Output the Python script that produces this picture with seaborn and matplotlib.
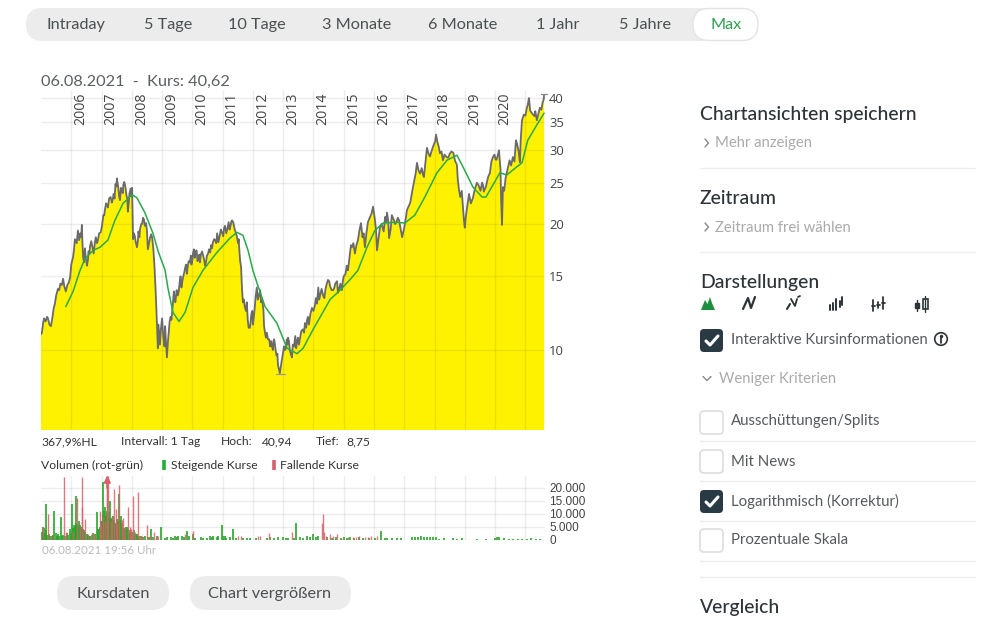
import matplotlib
matplotlib.use("Agg")
import matplotlib.pyplot as plt
from matplotlib.patches import FancyBboxPatch, Circle
import pandas as pd
import seaborn as sns

sns.set_style("white")
plt.rcParams["font.family"] = ["Lato", "DejaVu Sans"]

# ===== DATEN =====
kurs_jahr = [
    2005.00, 2005.03, 2005.07, 2005.10, 2005.15, 2005.20, 2005.23, 2005.28, 2005.33, 2005.38, 2005.42, 2005.46,
    2005.50, 2005.56, 2005.60, 2005.64, 2005.69, 2005.73, 2005.77, 2005.82, 2005.87, 2005.92, 2005.96, 2006.00,
    2006.06, 2006.12, 2006.18, 2006.22, 2006.30, 2006.35, 2006.39, 2006.45, 2006.52, 2006.57, 2006.62, 2006.70,
    2006.78, 2006.85, 2006.92, 2007.01, 2007.06, 2007.11, 2007.18, 2007.25, 2007.34, 2007.40, 2007.46, 2007.51,
    2007.55, 2007.61, 2007.67, 2007.72, 2007.77, 2007.82, 2007.87, 2007.92, 2008.01, 2008.03, 2008.04, 2008.10,
    2008.17, 2008.22, 2008.27, 2008.37, 2008.43, 2008.50, 2008.53, 2008.60, 2008.67, 2008.71, 2008.73, 2008.75,
    2008.78, 2008.80, 2008.83, 2008.86, 2008.90, 2008.93, 2009.00, 2009.05, 2009.10, 2009.13, 2009.16, 2009.22,
    2009.28, 2009.33, 2009.39, 2009.44, 2009.52, 2009.58, 2009.64, 2009.70, 2009.76, 2009.82, 2009.88, 2009.92,
    2009.97, 2010.02, 2010.08, 2010.14, 2010.20, 2010.25, 2010.32, 2010.42, 2010.48, 2010.55, 2010.62, 2010.68,
    2010.75, 2010.82, 2010.90, 2010.98, 2011.05, 2011.12, 2011.20, 2011.26, 2011.31, 2011.38, 2011.44, 2011.51,
    2011.56, 2011.61, 2011.64, 2011.70, 2011.77, 2011.83, 2011.90, 2011.95, 2012.00, 2012.06, 2012.13, 2012.20,
    2012.30, 2012.35, 2012.40, 2012.50, 2012.57, 2012.63, 2012.68, 2012.73, 2012.78, 2012.83, 2012.89, 2012.95,
    2013.06, 2013.12, 2013.16, 2013.22, 2013.29, 2013.36, 2013.46, 2013.52, 2013.56, 2013.65, 2013.79, 2013.85,
    2013.95, 2014.05, 2014.12, 2014.16, 2014.22, 2014.32, 2014.40, 2014.48, 2014.55, 2014.65, 2014.72, 2014.85,
    2014.94, 2015.00, 2015.14, 2015.27, 2015.37, 2015.47, 2015.57, 2015.70, 2015.80, 2015.97, 2016.10, 2016.20,
    2016.32, 2016.43, 2016.50, 2016.59, 2016.70, 2016.79, 2016.93, 2017.09, 2017.26, 2017.34, 2017.42, 2017.52,
    2017.65, 2017.75, 2017.91, 2018.05, 2018.18, 2018.28, 2018.40, 2018.51, 2018.62, 2018.74, 2018.81, 2018.94,
    2019.00, 2019.10, 2019.27, 2019.40, 2019.57, 2019.63, 2019.77, 2019.93, 2020.05, 2020.13, 2020.23, 2020.26,
    2020.43, 2020.59, 2020.69, 2020.82, 2020.89, 2021.05, 2021.12, 2021.22, 2021.38, 2021.48, 2021.62,
]
kurs_wert = [
    10.9, 11.0, 11.6, 11.9, 11.7, 12.0, 11.9, 11.5, 11.4, 12.0, 12.6, 12.9,
    13.5, 14.0, 13.9, 14.4, 14.3, 14.8, 14.2, 13.8, 14.3, 14.5, 14.9, 16.0,
    16.7, 18.4, 18.0, 19.3, 19.0, 19.9, 16.7, 17.5, 15.9, 17.2, 17.7, 17.6,
    18.1, 18.0, 19.0, 19.7, 21.0, 21.6, 22.2, 23.0, 22.5, 23.6, 24.9, 25.7,
    24.6, 22.8, 24.2, 24.8, 24.9, 23.5, 21.4, 23.6, 24.4, 20.0, 18.4, 18.7,
    17.6, 19.2, 19.4, 20.7, 19.8, 19.3, 17.4, 18.5, 18.6, 17.5, 16.6, 15.8,
    14.2, 13.2, 11.6, 10.1, 11.0, 10.3, 11.9, 10.6, 11.4, 10.4, 9.6, 11.0,
    12.0, 12.3, 13.8, 13.0, 13.5, 14.5, 14.1, 15.0, 15.7, 15.2, 16.3, 16.2,
    16.0, 17.0, 16.6, 17.3, 16.5, 16.2, 17.2, 15.9, 16.8, 17.4, 17.8, 18.1,
    18.3, 19.0, 18.7, 19.1, 19.6, 19.0, 20.2, 19.8, 20.4, 19.7, 19.0, 18.0,
    17.0, 15.8, 14.0, 13.2, 12.4, 11.8, 11.3, 12.2, 11.5, 12.6, 14.1, 13.5,
    13.2, 12.4, 11.0, 10.6, 10.2, 10.2, 10.5, 10.3, 9.7, 9.2, 8.8, 9.4,
    10.0, 10.6, 10.7, 10.0, 9.6, 10.2, 10.5, 10.3, 10.7, 11.2, 11.8, 11.5,
    12.6, 12.8, 12.9, 14.1, 13.5, 13.5, 14.0, 14.7, 14.2, 13.9, 14.4, 14.0,
    13.9, 15.0, 15.5, 17.6, 17.0, 18.3, 20.1, 17.6, 20.2, 22.0, 17.3, 19.7,
    19.2, 21.3, 18.5, 21.0, 20.0, 20.7, 18.6, 21.6, 23.9, 25.6, 28.0, 26.4,
    25.9, 30.4, 30.0, 32.7, 29.5, 28.4, 28.9, 29.5, 29.6, 27.7, 24.1, 22.0,
    19.6, 22.5, 23.1, 25.1, 25.1, 23.9, 25.9, 28.9, 28.5, 30.0, 19.9, 24.5,
    27.4, 28.9, 31.7, 28.1, 35.4, 37.9, 40.0, 36.8, 35.4, 37.9, 40.6,
]

# Zwischenwerte der Kurslinie (Zacken)
zacken_jahr = [
    2006.09, 2006.26, 2006.33, 2006.37, 2006.42, 2006.48, 2006.55, 2006.60, 2006.66, 2006.74,
    2006.81, 2006.88, 2006.97, 2007.04, 2007.09, 2007.15, 2007.21, 2007.30, 2007.37, 2007.43,
    2007.49, 2007.53, 2007.58, 2007.64, 2007.70, 2007.75, 2007.80, 2007.85, 2007.90, 2007.96,
    2007.99, 2008.07, 2008.13, 2008.20, 2008.25, 2008.31, 2008.34, 2008.40, 2008.47, 2008.57,
    2008.64, 2008.69, 2008.85, 2008.88, 2008.96, 2009.03, 2009.08, 2009.19, 2009.25, 2009.31,
    2009.36, 2009.41, 2009.48, 2009.55, 2009.61, 2009.67, 2009.73, 2009.79, 2009.85, 2009.95,
    2010.00, 2010.05, 2010.11, 2010.17, 2010.23, 2010.28, 2010.36, 2010.39, 2010.45, 2010.52,
    2010.59, 2010.65, 2010.72, 2010.79, 2010.86, 2010.94, 2011.02, 2011.08, 2011.16, 2011.23,
    2011.29, 2011.35, 2011.41, 2011.47, 2011.53, 2011.58, 2011.67, 2011.73, 2011.80, 2011.86,
    2011.92, 2011.98, 2012.03, 2012.09, 2012.16, 2012.24, 2012.27, 2012.33, 2012.37, 2012.43,
    2012.46, 2012.54, 2012.60, 2012.66, 2012.70, 2012.75, 2012.81, 2012.86, 2012.92, 2013.00,
    2013.03, 2013.09, 2013.14, 2013.19, 2013.25, 2013.32, 2013.40, 2013.43, 2013.49, 2013.60,
    2013.69, 2013.72, 2013.76, 2013.82, 2013.90, 2014.00, 2014.08, 2014.19, 2014.27, 2014.36,
    2014.44, 2014.52, 2014.60, 2014.69, 2014.78, 2014.81, 2014.89, 2014.97, 2015.06, 2015.10,
    2015.20, 2015.24, 2015.32, 2015.42, 2015.52, 2015.62, 2015.66, 2015.75, 2015.85, 2015.92,
    2016.03, 2016.07, 2016.15, 2016.25, 2016.37, 2016.40, 2016.47, 2016.55, 2016.64, 2016.74,
    2016.83, 2016.88, 2017.00, 2017.04, 2017.14, 2017.20, 2017.30, 2017.38, 2017.47, 2017.58,
    2017.62, 2017.70, 2017.80, 2017.85, 2017.98, 2018.02, 2018.10, 2018.14, 2018.23, 2018.33,
    2018.45, 2018.56, 2018.68, 2018.77, 2018.85, 2018.90, 2018.97, 2019.04, 2019.14, 2019.20,
    2019.33, 2019.45, 2019.52, 2019.60, 2019.70, 2019.83, 2019.88, 2019.98, 2020.02, 2020.09,
    2020.18, 2020.20, 2020.30, 2020.35, 2020.48, 2020.53, 2020.64, 2020.73, 2020.78, 2020.85,
    2020.95, 2021.00, 2021.08, 2021.16, 2021.30, 2021.33, 2021.43, 2021.53, 2021.57, 2021.60,
]
zacken_wert = [
    17.4, 18.3, 18.6, 18.0, 16.2, 16.6, 16.4, 17.0, 18.2, 17.0,
    18.6, 18.3, 19.1, 20.5, 21.0, 22.4, 21.9, 23.2, 22.9, 23.0,
    24.6, 25.0, 23.3, 24.4, 23.7, 25.2, 24.2, 23.0, 22.5, 24.3,
    23.4, 19.0, 18.1, 18.2, 18.6, 20.0, 20.0, 20.5, 20.1, 18.0,
    18.9, 18.0, 10.8, 11.5, 11.2, 11.0, 10.2, 10.4, 11.7, 11.8,
    13.0, 13.2, 13.9, 13.8, 15.0, 14.6, 15.3, 16.0, 15.9, 16.8,
    16.4, 17.4, 17.2, 16.3, 16.9, 16.9, 16.8, 16.4, 16.2, 17.0,
    17.1, 17.5, 18.4, 18.0, 18.1, 19.4, 18.7, 19.8, 19.5, 19.4,
    20.3, 20.2, 19.3, 18.7, 18.4, 16.3, 13.0, 12.7, 13.0, 11.3,
    11.6, 12.4, 12.0, 13.4, 13.2, 13.9, 13.0, 12.8, 11.4, 10.7,
    11.0, 10.6, 10.5, 10.0, 10.6, 10.0, 9.8, 9.0, 9.1, 9.9,
    10.2, 10.1, 10.3, 10.5, 9.8, 10.3, 10.8, 10.1, 10.7, 11.1,
    11.0, 11.6, 11.3, 12.0, 12.2, 12.4, 13.3, 13.2, 14.0, 13.3,
    14.4, 14.6, 13.9, 14.1, 14.6, 13.7, 14.4, 14.6, 15.2, 15.9,
    16.8, 17.8, 18.0, 17.8, 19.3, 18.6, 19.0, 19.0, 20.6, 21.2,
    20.5, 19.3, 18.5, 20.0, 20.8, 20.2, 20.4, 19.4, 20.6, 20.2,
    20.4, 19.5, 19.6, 20.4, 22.0, 22.5, 24.7, 26.5, 26.9, 27.2,
    26.2, 28.0, 29.5, 29.0, 31.0, 31.5, 31.3, 30.6, 29.8, 29.3,
    28.8, 29.8, 28.3, 25.5, 23.2, 24.0, 20.5, 21.0, 23.6, 22.4,
    24.2, 24.8, 24.0, 24.8, 24.6, 26.5, 28.2, 29.3, 28.5, 29.2,
    27.0, 23.0, 24.0, 25.8, 28.4, 27.6, 28.2, 31.0, 29.8, 32.0,
    36.5, 36.3, 38.5, 37.3, 36.2, 37.2, 36.6, 37.5, 39.0, 39.5,
]

gd_jahr = [
    2005.82, 2006.06, 2006.29, 2006.45, 2006.72, 2006.95, 2007.21, 2007.44, 2007.71, 2008.01, 2008.17, 2008.43,
    2008.70, 2008.86, 2009.10, 2009.19, 2009.36, 2009.56, 2009.76, 2010.02, 2010.35, 2010.81, 2011.24, 2011.47,
    2011.67, 2011.84, 2012.00, 2012.13, 2012.40, 2012.79, 2013.13, 2013.46, 2013.66, 2013.99, 2014.31, 2014.55,
    2014.88, 2015.20, 2015.47, 2015.77, 2016.03, 2016.30, 2016.76, 2017.02, 2017.35, 2017.68, 2018.08, 2018.41,
    2018.74, 2018.94, 2019.27, 2019.57, 2019.70, 2019.93, 2020.16, 2020.39, 2020.72, 2020.89, 2021.08, 2021.38,
    2021.62,
]
gd_wert = [
    12.7, 13.8, 15.5, 16.5, 17.3, 17.6, 18.3, 20.4, 22.4, 23.5, 23.1, 21.3,
    19.0, 17.3, 15.5, 14.1, 12.3, 11.7, 12.3, 14.1, 15.5, 17.1, 18.5, 19.1,
    18.8, 17.3, 15.5, 14.5, 12.7, 11.6, 10.1, 9.8, 10.1, 11.2, 12.3, 13.2,
    13.9, 14.7, 15.5, 17.6, 19.3, 20.1, 20.2, 20.1, 21.0, 23.2, 26.5, 28.4,
    29.2, 27.4, 24.5, 23.2, 23.2, 24.8, 26.5, 26.2, 27.4, 28.0, 31.7, 34.5,
    36.8,
]

vol_gruen_jahr = [
    2005.07, 2005.15, 2005.18, 2005.27, 2005.36, 2005.44, 2005.49, 2005.57, 2005.66, 2005.74, 2005.85, 2005.96,
    2006.04, 2006.09, 2006.14, 2006.20, 2006.26, 2006.32, 2006.40, 2006.51, 2006.62, 2006.73, 2006.84, 2006.89,
    2006.95, 2006.99, 2007.04, 2007.08, 2007.11, 2007.15, 2007.18, 2007.22, 2007.25, 2007.28, 2007.33, 2007.36,
    2007.39, 2007.44, 2007.50, 2007.59, 2007.63, 2007.67, 2007.77, 2007.85, 2007.94, 2008.07, 2008.16, 2008.32,
    2008.43, 2008.65, 2008.82, 2008.96, 2009.15, 2009.31, 2009.43, 2009.53, 2009.65, 2009.81, 2009.90, 2010.03,
    2010.27, 2010.58, 2010.69, 2010.86, 2010.97, 2011.08, 2011.24, 2011.35, 2011.68, 2011.90, 2012.56, 2012.84,
    2013.00, 2013.17, 2013.44, 2013.55, 2013.78, 2014.00, 2014.16, 2014.44, 2014.75, 2015.00, 2015.20, 2015.50,
    2016.23, 2016.35, 2016.60, 2016.90, 2017.25, 2017.35, 2017.45, 2017.55, 2017.65, 2017.75, 2017.85, 2017.95,
    2018.05, 2018.30, 2018.60, 2018.90, 2020.07, 2020.30, 2020.60, 2020.90, 2021.20, 2021.50,
    2005.03, 2005.10, 2005.12, 2005.22, 2005.31, 2005.40, 2005.53, 2005.61, 2005.70, 2005.79,
    2005.90, 2006.00, 2006.07, 2006.12, 2006.17, 2006.23, 2006.29, 2006.35, 2006.37, 2006.43,
    2006.46, 2006.55, 2006.59, 2006.67, 2006.78, 2006.92, 2006.97, 2007.02, 2007.06, 2007.13,
    2007.17, 2007.20, 2007.24, 2007.27, 2007.30, 2007.35, 2007.38, 2007.42, 2007.46, 2007.48,
    2007.53, 2007.56, 2007.61, 2007.65, 2007.70, 2007.73, 2007.80, 2007.83, 2007.88, 2007.91,
    2007.98, 2008.02, 2008.10, 2008.13, 2008.20, 2008.25, 2008.38, 2008.55, 2008.60, 2008.70,
    2009.10, 2009.35, 2009.48, 2009.72, 2010.10, 2010.35, 2010.50, 2010.64, 2010.80, 2011.00,
    2011.12, 2011.45, 2011.80, 2012.10, 2012.45, 2012.70, 2013.10, 2013.35, 2013.65, 2013.90,
    2014.10, 2014.60, 2014.90, 2015.10, 2015.35, 2015.65, 2015.85, 2016.05, 2016.42, 2016.75,
    2018.15, 2018.75, 2019.40, 2019.70, 2020.00, 2020.12, 2020.45, 2020.75, 2021.05, 2021.35,
]
vol_gruen_wert = [
    4900, 13700, 3500, 2200, 1500, 11000, 2500, 2000, 8800, 1800, 2500, 4000,
    13900, 5500, 17000, 6000, 7000, 5000, 4000, 2000, 1500, 2500, 10700, 4000,
    5000, 7000, 22300, 11000, 12500, 9000, 10000, 8000, 8500, 15000, 7000, 6500,
    9000, 6000, 8000, 17800, 9000, 6500, 4500, 5000, 3500, 3500, 2000, 1500,
    1500, 4000, 1200, 5000, 800, 1000, 1300, 1300, 1500, 3200, 1500, 2000,
    1000, 1200, 1500, 1500, 5800, 1500, 800, 4100, 700, 500, 900, 800,
    900, 700, 6200, 800, 1500, 2000, 1500, 1000, 800, 900, 800, 1000,
    3200, 500, 400, 500, 1000, 1100, 1000, 1200, 1000, 1100, 1000, 900,
    800, 400, 400, 400, 1000, 400, 300, 300, 400, 300,
    3000, 4500, 2500, 1800, 1500, 1800, 1500, 1500, 1500, 1200,
    1800, 2500, 4500, 5000, 6000, 5000, 5500, 4000, 5000, 3500,
    3000, 1800, 1500, 1800, 2000, 4000, 5500, 7000, 9500, 8000,
    11000, 9000, 10500, 8500, 8000, 8500, 7000, 7500, 6500, 5500,
    6000, 7000, 7500, 6000, 4500, 4000, 5000, 3500, 4000, 3000,
    2500, 3000, 1500, 2000, 1500, 1200, 1000, 800, 800, 900,
    600, 700, 800, 900, 600, 500, 700, 900, 800, 1200,
    500, 500, 400, 400, 500, 400, 600, 500, 700, 1000,
    800, 600, 500, 600, 500, 700, 600, 700, 400, 400,
    300, 300, 200, 200, 700, 800, 300, 300, 300, 300,
]
vol_rot_jahr = [
    2005.07, 2005.24, 2005.41, 2005.76, 2005.81, 2006.18, 2006.34, 2006.36, 2006.45, 2006.56, 2006.78, 2006.95,
    2007.11, 2007.18, 2007.19, 2007.20, 2007.41, 2007.48, 2007.59, 2007.72, 2007.86, 2007.94, 2008.05, 2008.21,
    2008.27, 2008.49, 2008.73, 2008.87, 2009.76, 2010.03, 2011.52, 2011.60, 2012.18, 2012.23, 2012.53, 2013.30,
    2014.28, 2014.30, 2014.36, 2014.55, 2014.65, 2014.79, 2015.30, 2015.50, 2015.70, 2015.90, 2016.10,
    2006.05, 2006.28, 2006.70, 2006.98, 2007.05, 2007.30, 2007.36, 2007.52, 2007.66, 2007.78,
    2007.98, 2008.12, 2008.35, 2008.60, 2008.80, 2014.40, 2014.90, 2015.15, 2015.40, 2015.80,
]
vol_rot_wert = [
    5000, 10000, 1800, 24400, 3000, 15900, 12600, 24400, 8000, 2000, 2000, 11000,
    7000, 24500, 24500, 24500, 19700, 12000, 21000, 8500, 12600, 5000, 17000, 18400,
    1500, 5500, 2800, 1500, 2000, 3300, 1500, 1200, 1500, 1300, 2500, 3000,
    6500, 10000, 3000, 2000, 1300, 2300, 1000, 1200, 1100, 1300, 1500,
    3000, 5000, 2500, 6000, 9000, 7000, 9000, 6000, 7500, 5000,
    4000, 3000, 1500, 1500, 1000, 1500, 700, 800, 800, 900,
]

jahre = list(range(2006, 2022))
kurs_ticks = [10, 15, 20, 25, 30, 35, 40]
vol_ticks = [0, 5000, 10000, 15000, 20000]
vol_labels = ["0", "5.000", "10.000", "15.000", "20.000"]
hoch = 40.94
tief = 8.75

zeitraum_tabs = ["Intraday", "5 Tage", "10 Tage", "3 Monate", "6 Monate", "1 Jahr", "5 Jahre", "Max"]
tab_x = [76, 168, 257, 357, 463, 558, 645, 726]

kurs = pd.DataFrame({"jahr": kurs_jahr + zacken_jahr, "wert": kurs_wert + zacken_wert}).sort_values("jahr")
gd = pd.DataFrame({"jahr": gd_jahr, "wert": gd_wert})

fig = plt.figure(figsize=(9.99, 6.24), dpi=100, facecolor="white")
W, H = 999, 624

# ===== KURSCHART =====
ax = fig.add_axes([41 / W, (H - 430) / H, 504 / W, 340 / H])
ax.fill_between(kurs["jahr"], kurs["wert"], 1, color="#fff200", lw=0, zorder=1)
sns.lineplot(data=kurs, x="jahr", y="wert", ax=ax, color="#6a6a6a", linewidth=1.3, zorder=3, errorbar=None)
sns.lineplot(data=gd, x="jahr", y="wert", ax=ax, color="#2aa84a", linewidth=1.1, zorder=4, errorbar=None)
ax.set_yscale("log")
ax.set_xlim(2005.0, 2021.65)
ax.set_ylim(6.44, 41.8)
ax.set_xticks(jahre)
ax.set_yticks(kurs_ticks)
ax.set_yticks([], minor=True)
ax.set_yticklabels([str(t) for t in kurs_ticks], family="Open Sans")
ax.set_xticklabels([])
ax.set_xlabel("")
ax.set_ylabel("")
ax.yaxis.tick_right()
ax.tick_params(axis="y", length=0, pad=3, labelsize=9.4, labelcolor="#444444")
ax.tick_params(axis="x", length=0)
ax.grid(True, color="black", alpha=0.07, lw=1, zorder=5)
ax.set_axisbelow(False)
sns.despine(ax=ax, left=True, bottom=True, right=True, top=True)

for jahr in jahre[:-1]:
    ax.annotate(str(jahr), xy=(jahr, 1), xycoords=("data", "axes fraction"), xytext=(6.9, -1.8),
                textcoords="offset points", rotation=90, ha="center", va="top", fontsize=10.2,
                color="#444444", family="Open Sans")

# Hoch / Tief Markierung
ax.plot([2021.52, 2021.72], [hoch, hoch], color="#888888", lw=0.9, clip_on=False, zorder=6)
ax.plot([2021.62, 2021.62], [hoch, 40.0], color="#888888", lw=0.9, clip_on=False, zorder=6)
ax.plot([2012.76, 2013.06], [tief, tief], color="#999999", lw=0.9, zorder=6)

# ===== VOLUMEN =====
ax2 = fig.add_axes([41 / W, (H - 539.5) / H, 504 / W, 63.5 / H])
ax2.vlines(vol_gruen_jahr, 0, vol_gruen_wert, color="#2aa52a", lw=1.2, zorder=3)
ax2.vlines(vol_rot_jahr, 0, vol_rot_wert, color="#d9606a", lw=1.0, alpha=0.85, zorder=4)
ax2.set_xlim(2005.0, 2021.65)
ax2.set_ylim(0, 24600)
ax2.set_xticks(jahre)
ax2.set_xticklabels([])
ax2.set_yticks(vol_ticks)
ax2.set_yticklabels(vol_labels, family="Liberation Sans")
ax2.yaxis.tick_right()
ax2.tick_params(axis="y", length=0, pad=3, labelsize=8.5, labelcolor="#444444")
ax2.tick_params(axis="x", length=0)
ax2.grid(True, color="black", alpha=0.07, lw=1)
ax2.set_axisbelow(True)
sns.despine(ax=ax2, left=True, bottom=True, right=True, top=True)
ax2.annotate("", xy=(2007.19, 24800), xytext=(2007.19, 20000), annotation_clip=False,
             arrowprops=dict(arrowstyle="-|>", color="#d9606a", lw=1.5, mutation_scale=9, shrinkA=0, shrinkB=0))

# ===== SEITENELEMENTE =====
ui = fig.add_axes([0, 0, 1, 1], zorder=-1)
ui.set_xlim(0, W)
ui.set_ylim(H, 0)
ui.axis("off")
ov = fig.add_axes([0, 0, 1, 1], zorder=10)
ov.set_xlim(0, W)
ov.set_ylim(H, 0)
ov.axis("off")
ov.patch.set_alpha(0)


def pille(x0, y0, x1, y1, farbe, rand="none"):
    r = (y1 - y0) / 2
    ui.add_patch(FancyBboxPatch((x0 + r, y0 + r), x1 - x0 - 2 * r, 0, boxstyle=f"round,pad={r},rounding_size={r}",
                                fc=farbe, ec=rand, lw=1))


def txt(x, y, s, size, farbe="#333333", ha="left", weight="normal"):
    ov.text(x, y + 1, s, fontsize=size * 0.72, color=farbe, ha=ha, va="center", fontweight=weight,
            family=["Lato", "DejaVu Sans"])


def box(y0, aktiv):
    if aktiv:
        ov.add_patch(FancyBboxPatch((702, y0 + 2), 19, 19, boxstyle="round,pad=2,rounding_size=4",
                                    fc="#2a3a44", ec="none"))
        ov.plot([706, 710, 718], [y0 + 12, y0 + 16, y0 + 7], color="white", lw=2.2, solid_capstyle="round")
    else:
        ov.add_patch(FancyBboxPatch((702, y0 + 2), 19, 19, boxstyle="round,pad=2,rounding_size=4",
                                    fc="white", ec="#dddddd", lw=1.2))


# Zeitraum-Leiste oben
pille(26, 8, 758, 41, "#ececec")
pille(693, 8.5, 758, 40.5, "white", "#e4e4e4")
for name, x in zip(zeitraum_tabs, tab_x):
    txt(x, 24, name, 16.2, "#2f9e52" if name == "Max" else "#4a4f52", ha="center")

txt(41, 80.5, "06.08.2021  -  Kurs: 40,62", 16.3, "#5a5f62")
zeile = [(41, "367,9%HL"), (121, "Intervall: 1 Tag"), (221, "Hoch:"), (262, "40,94"), (316, "Tief:"), (346, "8,75")]
for x, s in zeile:
    txt(x, 440.5, s, 12.1, "#333333")
txt(41, 464.5, "Volumen (rot-grün)", 12.1, "#333333")
ov.plot([164, 164], [460, 470], color="#22b03a", lw=2.6, solid_capstyle="butt")
txt(171, 464.5, "Steigende Kurse", 12.1, "#333333")
ov.plot([273.5, 273.5], [460, 470], color="#d9606a", lw=2.6, solid_capstyle="butt")
txt(280, 464.5, "Fallende Kurse", 12.1, "#333333")
txt(42, 549.5, "06.08.2021 19:56 Uhr", 11.5, "#bbbbbb")

pille(57, 576, 169, 610, "#ececec")
pille(190, 576, 351, 610, "#ececec")
txt(113, 593, "Kursdaten", 16.2, "#4a4f52", ha="center")
txt(270, 593, "Chart vergrößern", 16.2, "#4a4f52", ha="center")

# rechte Spalte
for y in [167.5, 251.5, 441, 481, 520.5, 560.5, 576.5]:
    ui.plot([700, 975], [y, y], color="#eeeeee", lw=1)

for y, s in [(113.5, "Chartansichten speichern"), (197.5, "Zeitraum"), (281.5, "Darstellungen"), (606.5, "Vergleich")]:
    txt(700, y, s, 19.3, "#2d3439", weight="medium")

for y, s in [(143, "Mehr anzeigen"), (227, "Zeitraum frei wählen")]:
    ov.plot([705, 708.5, 705], [y - 4, y, y + 4], color="#888888", lw=1)
    txt(715, y - 0.5, s, 14.9, "#aaaaaa")
ov.plot([703, 707, 711], [376.5, 380.5, 376.5], color="#888888", lw=1)
txt(719, 378, "Weniger Kriterien", 14.9, "#aaaaaa")

box(329, True)
txt(731, 339.5, "Interaktive Kursinformationen", 14.9, "#555a5e")
ov.add_patch(Circle((941, 339), 6.3, fc="white", ec="#2d3439", lw=1.2))
ov.plot([941, 941], [338, 342.5], color="#2d3439", lw=1.3)
ov.plot([941], [335.5], marker="o", ms=1.5, color="#2d3439")
for y0, y, s, an in [(411, 420.5, "Ausschüttungen/Splits", False), (450, 460.5, "Mit News", False),
                     (490, 500, "Logarithmisch (Korrektur)", True), (529, 539.5, "Prozentuale Skala", False)]:
    box(y0, an)
    txt(731, y, s, 15, "#555a5e")

# Darstellungs-Symbole
ov.fill([701, 705, 707.5, 710, 712, 715, 715, 701], [310, 300, 304, 297, 303, 310, 310, 310], color="#1f8f3f", lw=0)
ov.plot([743, 748, 751, 755], [309, 298, 308, 297], color="#2d3439", lw=1.6)
ov.plot([787, 790], [309, 304], color="#2d3439", lw=1.5)
ov.plot([791, 795, 797], [299, 306, 299], color="#2d3439", lw=1.3)
ov.plot([798, 800], [297, 296], color="#2d3439", lw=1.3)
for x, a, b in [(829.5, 305, 310), (833, 303, 310), (836, 299, 310), (839.5, 301, 307), (842, 297, 305)]:
    ov.plot([x, x], [a, b], color="#2d3439", lw=1.4)
for x, a, b in [(873, 300, 311), (878, 302, 308), (883, 297, 309)]:
    ov.plot([x, x], [a, b], color="#2d3439", lw=1.3)
    ov.plot([x - 1.5, x + 1.5], [(a + b) / 2, (a + b) / 2], color="#2d3439", lw=1.3)
ov.plot([917, 917], [300, 311], color="#2d3439", lw=1)
ov.add_patch(plt.Rectangle((915, 303), 4, 5, fc="#2d3439", ec="#2d3439"))
ov.plot([925, 925], [296, 312], color="#2d3439", lw=1)
ov.add_patch(plt.Rectangle((922.5, 299), 5, 10, fc="white", ec="#2d3439", lw=1.2))

fig.savefig("out.png", dpi=100)
